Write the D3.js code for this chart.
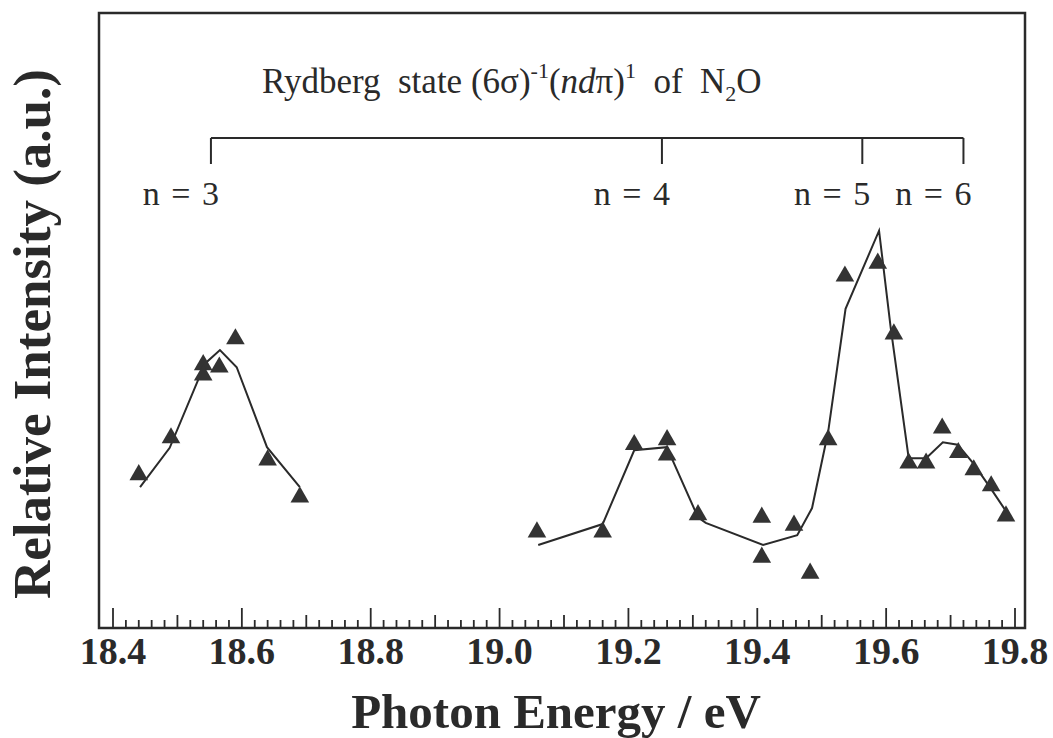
<!DOCTYPE html>
<html><head><meta charset="utf-8">
<script src="https://cdn.jsdelivr.net/npm/d3@7"></script>
<style>body{margin:0;background:#fff}svg{display:block}</style>
</head><body>
<script>
// ---- data ----
const triE = [18.44,18.49,18.54,18.54,18.565,18.59,18.64,18.69,
  19.058,19.16,19.209,19.26,19.26,19.308,19.407,19.407,19.457,19.482,19.51,19.536,19.587,19.612,19.635,19.662,19.687,19.712,19.736,19.763,19.786];
const triI = [2.49,3.09,4.28,4.11,4.24,4.70,2.73,2.13,
  1.56,1.56,2.98,3.06,2.81,1.84,1.80,1.15,1.67,0.89,3.06,5.72,5.93,4.78,2.68,2.68,3.25,2.85,2.57,2.31,1.82];
const line1E = [18.442,18.488,18.532,18.546,18.566,18.592,18.639,18.690];
const line1I = [2.29,2.93,4.03,4.33,4.52,4.24,2.94,2.29];
const line2E = [19.060,19.160,19.209,19.260,19.263,19.308,19.320,19.409,19.462,19.485,19.510,19.537,19.589,19.607,19.635,19.662,19.688,19.711,19.735,19.761,19.786];
const line2I = [1.35,1.69,2.89,2.94,2.86,1.80,1.71,1.35,1.51,1.95,3.19,5.19,6.46,4.89,2.76,2.76,3.02,2.98,2.68,2.29,1.90];
const tickLabels = ["18.4","18.6","18.8","19.0","19.2","19.4","19.6","19.8"];
const levelN = [3,4,5,6];
const levelE = [18.552,19.252,19.563,19.72];

// ---- layout ----
const W = 1053, H = 738;
const svg = d3.select("body").append("svg").attr("width", W).attr("height", H);
const x = d3.scaleLinear().domain([18.4, 19.8]).range([113, 1015]);
const y = d3.scaleLinear().domain([0, 10]).range([628, 13]);
const frame = {l: 99, r: 1025, t: 13, b: 628};
const serif = "'Liberation Serif','Times New Roman',serif";
const ink = "#2a2a2a";

svg.append("rect").attr("x", frame.l).attr("y", frame.t)
  .attr("width", frame.r - frame.l).attr("height", frame.b - frame.t)
  .attr("fill", "none").attr("stroke", ink).attr("stroke-width", 2.5);

// ticks (inward from bottom)
const tickVals = d3.range(0, 71).map(i => ({v: 18.4 + i * 0.02, i}));
svg.append("g").selectAll("line").data(tickVals).join("line")
  .attr("x1", d => x(d.v)).attr("x2", d => x(d.v))
  .attr("y1", frame.b)
  .attr("y2", d => frame.b - (d.i % 10 === 0 ? 20 : d.i % 5 === 0 ? 13 : 8))
  .attr("stroke", ink).attr("stroke-width", 1.8);

svg.append("g").selectAll("text").data(tickLabels).join("text")
  .attr("x", d => x(+d)).attr("y", 664)
  .attr("text-anchor", "middle")
  .attr("font-family", serif).attr("font-weight", "bold").attr("font-size", 38)
  .attr("fill", ink).text(d => d);

svg.append("text").attr("x", 556).attr("y", 728).attr("text-anchor", "middle")
  .attr("font-family", serif).attr("font-weight", "bold").attr("font-size", 49)
  .attr("fill", ink).text("Photon Energy / eV");

svg.append("text").attr("transform", "translate(50,334) rotate(-90)")
  .attr("text-anchor", "middle")
  .attr("font-family", serif).attr("font-weight", "bold").attr("font-size", 53)
  .attr("fill", ink).text("Relative Intensity (a.u.)");

// lines
const lineGen = d3.line().x(d => x(d[0])).y(d => y(d[1]));
[[line1E, line1I], [line2E, line2I]].forEach(([E, I]) => {
  svg.append("path").datum(E.map((e, k) => [e, I[k]]))
    .attr("d", lineGen).attr("fill", "none").attr("stroke", ink).attr("stroke-width", 2);
});

// triangles
const tri = d3.symbol().type(d3.symbolTriangle).size(150);
svg.append("g").selectAll("path").data(triE.map((e, k) => [e, triI[k]])).join("path")
  .attr("transform", d => `translate(${x(d[0])},${y(d[1])})`)
  .attr("d", tri).attr("fill", "#333");

// Rydberg annotation
const brY = 138, brTick = 26;
svg.append("line").attr("x1", x(levelE[0])).attr("x2", x(levelE[levelE.length - 1]))
  .attr("y1", brY).attr("y2", brY).attr("stroke", ink).attr("stroke-width", 2);
svg.append("g").selectAll("line").data(levelE).join("line")
  .attr("x1", d => x(d)).attr("x2", d => x(d)).attr("y1", brY).attr("y2", brY + brTick)
  .attr("stroke", ink).attr("stroke-width", 2);
svg.append("g").selectAll("text").data(levelN).join("text")
  .attr("x", (d, k) => x(levelE[k]) + 8).attr("y", 205)
  .attr("text-anchor", "end").attr("font-family", serif).attr("font-size", 34)
  .attr("word-spacing", 3)
  .attr("fill", ink).style("white-space", "pre")
  .text(d => "n = " + d);

const t = svg.append("text").attr("x", 262).attr("y", 93)
  .attr("font-family", serif).attr("font-size", 35).attr("fill", ink)
  .style("white-space", "pre");
t.append("tspan").text("Rydberg  state (6σ)");
t.append("tspan").attr("dy", -15).attr("font-size", 22).text("-1");
t.append("tspan").attr("dy", 15).text("(");
t.append("tspan").attr("font-style", "italic").text("nd");
t.append("tspan").text("π)");
t.append("tspan").attr("dy", -15).attr("font-size", 22).text("1");
t.append("tspan").attr("dy", 15).text("  of  N");
t.append("tspan").attr("dy", 8).attr("font-size", 22).text("2");
t.append("tspan").attr("dy", -8).text("O");
</script>
</body></html>
